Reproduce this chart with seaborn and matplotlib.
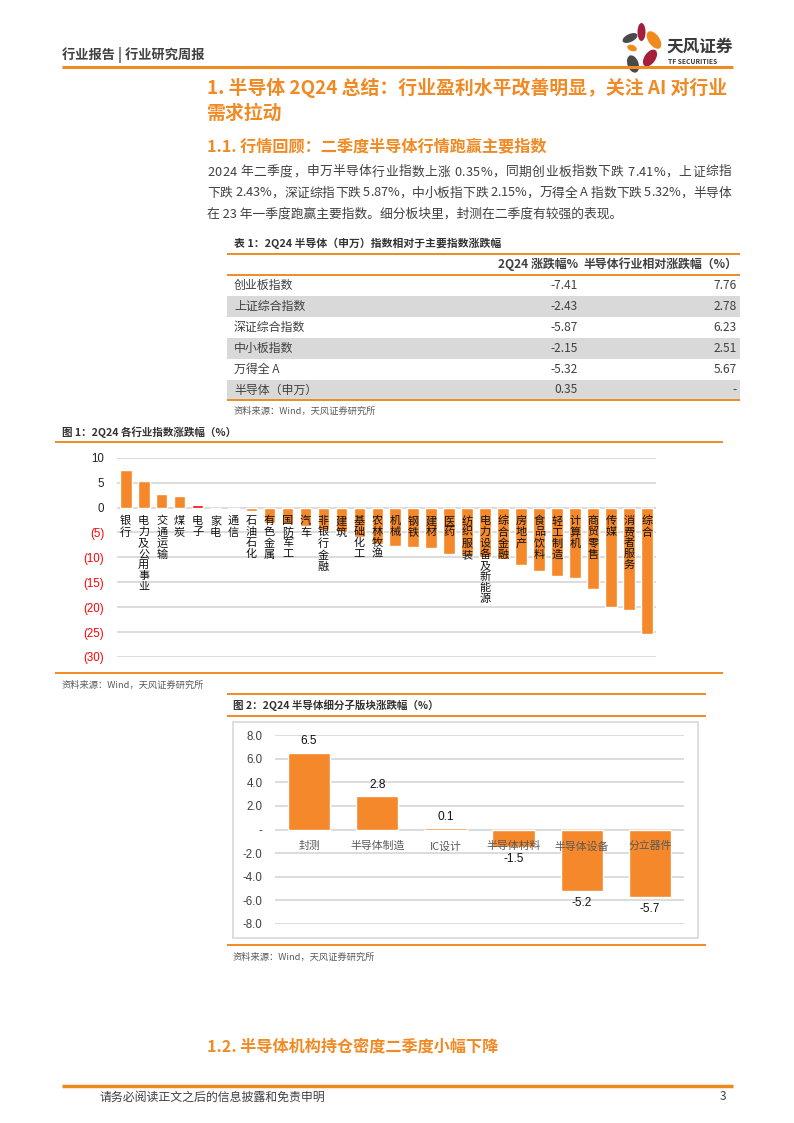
import numpy as np
import pandas as pd
import matplotlib
matplotlib.use('Agg')
import matplotlib.pyplot as plt
import seaborn as sns
from matplotlib.patches import Ellipse, Rectangle

sns.set_theme(style='white')
plt.rcParams['font.family'] = ['Noto Sans CJK SC', 'DejaVu Sans']
plt.rcParams['axes.unicode_minus'] = False

# ---------------- data ----------------
table_names = ['创业板指数', '上证综合指数', '深证综合指数', '中小板指数', '万得全 A', '半导体（申万）']
table_chg = ['-7.41', '-2.43', '-5.87', '-2.15', '-5.32', '0.35']
table_rel = ['7.76', '2.78', '6.23', '2.51', '5.67', '-']

ind_names = ['银行', '电力及公用事业', '交通运输', '煤炭', '电子', '家电', '通信', '石油石化',
             '有色金属', '国防军工', '汽车', '非银行金融', '建筑', '基础化工', '农林牧渔', '机械',
             '钢铁', '建材', '医药', '纺织服装', '电力设备及新能源', '综合金融', '房地产', '食品饮料',
             '轻工制造', '计算机', '商贸零售', '传媒', '消费者服务', '综合']
ind_chg = [7.6, 5.3, 2.7, 2.3, 0.6, 0.0, -0.3, -0.6,
           -3.2, -3.4, -3.8, -4.6, -5.0, -6.0, -7.4, -7.8,
           -7.9, -8.1, -9.3, -9.6, -9.9, -10.3, -11.6, -12.8,
           -13.8, -14.2, -16.3, -19.9, -20.5, -25.3]
ind_ticks = [10, 5, 0, -5, -10, -15, -20, -25, -30]

sub_names = ['封测', '半导体制造', 'IC设计', '半导体材料', '半导体设备', '分立器件']
sub_chg = [6.5, 2.8, 0.1, -1.5, -5.2, -5.7]
sub_ticks = [8, 6, 4, 2, 0, -2, -4, -6, -8]

paragraph = ['2024 年二季度，申万半导体行业指数上涨 0.35%，同期创业板指数下跌 7.41%，上证综指',
             '下跌 2.43%，深证综指下跌 5.87%，中小板指下跌 2.15%，万得全 A 指数下跌 5.32%，半导体',
             '在 23 年一季度跑赢主要指数。细分板块里，封测在二季度有较强的表现。']

ORANGE = '#F08A24'
BAR = '#F5882A'
GREY_TXT = '#404040'
W, H = 794, 1123

fig = plt.figure(figsize=(W / 100, H / 100), dpi=100)
renderer = fig.canvas.get_renderer()

# page canvas in pixel coordinates
bg = fig.add_axes([0, 0, 1, 1])
bg.set_xlim(0, W)
bg.set_ylim(H, 0)
bg.axis('off')


def hline(x0, x1, y, lw=1.4, color=ORANGE):
    bg.plot([x0, x1], [y, y], color=color, lw=lw, solid_capstyle='butt')


def text_w(s, **kw):
    t = bg.text(0, 0, s, **kw)
    w = t.get_window_extent(renderer).width
    t.remove()
    return w


def justified(x0, x1, y, line, **kw):
    # spread characters evenly so the line fills x0..x1
    dot = text_w('.', **kw)
    full = text_w(line + '.', **kw) - dot
    gap = (x1 - x0 - full) / (len(line) - 1)
    for i, ch in enumerate(line):
        if ch == ' ':
            continue
        xi = x0 + (text_w(line[:i] + '.', **kw) - dot if i else 0) + i * gap
        bg.text(xi, y, ch, **kw)


# header
bg.text(62, 55, '行业报告 | 行业研究周报', fontsize=9.5, fontweight='bold', color=GREY_TXT, va='center')
hline(62, 733, 67, lw=2.2)

# logo
petals = [((641.5, 32), 8, 18, 0, '#A31F3C'),
          ((654, 40), 11, 20, -35, '#F08A1C'),
          ((630, 38), 16, 8, -25, '#4A4A4A'),
          ((632, 48), 10, 6, 20, '#F08A1C'),
          ((650, 58), 11, 19, 35, '#A31F3C'),
          ((633, 64), 11, 18, -20, '#4A4A4A')]
for c, w, h, ang, col in petals:
    bg.add_patch(Ellipse(c, w, h, angle=ang, color=col, lw=0))
bg.text(666, 47, '天风证券', fontsize=12, fontweight='bold', color='#3A3A3A', va='center')
bg.text(668, 61, 'TF SECURITIES', fontsize=4.8, fontweight='bold', color='#3A3A3A', va='center')

# headings and paragraph
bg.text(207, 88, '1. 半导体 2Q24 总结：行业盈利水平改善明显，关注 AI 对行业', fontsize=13.6,
        fontweight='bold', color=ORANGE, va='center')
bg.text(207, 113, '需求拉动', fontsize=13.6, fontweight='bold', color=ORANGE, va='center')
bg.text(207, 146, '1.1. 行情回顾：二季度半导体行情跑赢主要指数', fontsize=11.6,
        fontweight='bold', color=ORANGE, va='center')
pstyle = dict(fontsize=9.2, color=GREY_TXT, va='center')
for i, line in enumerate(paragraph):
    if i < len(paragraph) - 1:
        justified(207, 731, 172 + 21 * i, line, **pstyle)
    else:
        bg.text(207, 172 + 21 * i, line, **pstyle)

# ---------------- table ----------------
bg.text(234, 243, '表 1：2Q24 半导体（申万）指数相对于主要指数涨跌幅', fontsize=7.8,
        fontweight='bold', color='#333333', va='center')
row_h = 20.9
tab_top = 275
for i in range(len(table_names)):
    y0 = tab_top + i * row_h
    if i % 2 == 1:
        bg.add_patch(Rectangle((227, y0), 513, row_h, color='#D9D9D9', lw=0))
    yc = y0 + row_h / 2
    bg.text(234, yc, table_names[i], fontsize=8.6, color=GREY_TXT, va='center')
    bg.text(578, yc, table_chg[i], fontsize=8.6, color=GREY_TXT, va='center', ha='right')
    bg.text(737, yc, table_rel[i], fontsize=8.6, color=GREY_TXT, va='center', ha='right')
bg.text(578, 264.5, '2Q24 涨跌幅%', fontsize=8.6, fontweight='bold', color=GREY_TXT,
        va='center', ha='right')
bg.text(737, 264.5, '半导体行业相对涨跌幅（%）', fontsize=8.6, fontweight='bold', color=GREY_TXT,
        va='center', ha='right')
hline(227, 740, 253.5)
hline(227, 740, tab_top)
hline(227, 740, tab_top + len(table_names) * row_h)
bg.text(234, 411.5, '资料来源：Wind，天风证券研究所', fontsize=6.7, color='#595959', va='center')

# ---------------- figure 1 ----------------
bg.text(62, 432, '图 1：2Q24 各行业指数涨跌幅（%）', fontsize=7.6, fontweight='bold',
        color='#333333', va='center')
hline(55, 723, 442)
hline(55, 723, 673)
bg.text(62, 685, '资料来源：Wind，天风证券研究所', fontsize=6.7, color='#595959', va='center')

x0, x1, yt, yb = 116.7, 656, 457.7, 657
ax1 = fig.add_axes([x0 / W, 1 - yb / H, (x1 - x0) / W, (yb - yt) / H])
ax1.set_facecolor('none')
df1 = pd.DataFrame({'name': ind_names, 'chg': ind_chg})
colors1 = {n: ('#FF0000' if n == '电子' else BAR) for n in ind_names}
sns.barplot(data=df1, x='name', y='chg', hue='name', palette=colors1, legend=False,
            width=0.65, saturation=1, ax=ax1, zorder=3)
ax1.set_ylim(-30, 10)
ax1.set_yticks(ind_ticks)
ax1.set_yticklabels([str(t) if t >= 0 else f'({-t})' for t in ind_ticks],
                    family=['Liberation Sans', 'DejaVu Sans'], fontsize=8.3)
for lab, t in zip(ax1.get_yticklabels(), ind_ticks):
    lab.set_color('#FF0000' if t < 0 else '#222222')
ax1.set_xticks([])
ax1.set_xlabel('')
ax1.set_ylabel('')
ax1.tick_params(axis='y', length=0, pad=9)
ax1.yaxis.grid(True, color='#D9D9D9', lw=1.3, zorder=0)
ax1.set_axisbelow(True)
sns.despine(ax=ax1, left=True, bottom=True)
for i, n in enumerate(ind_names):
    ax1.text(i, -1.7, '\n'.join(n), ha='center', va='top', fontsize=8,
             linespacing=1.12, color='#111111', zorder=5)

# ---------------- figure 2 ----------------
hline(227, 706, 694)
bg.text(233, 705, '图 2：2Q24 半导体细分子版块涨跌幅（%）', fontsize=7.6, fontweight='bold',
        color='#333333', va='center')
hline(227, 706, 716)
bg.add_patch(Rectangle((233, 722), 465, 216, fill=False, edgecolor='#D9D9D9', lw=1.2))
hline(227, 706, 945)
bg.text(233, 957, '资料来源：Wind，天风证券研究所', fontsize=6.7, color='#595959', va='center')

x0, x1, yt, yb = 275, 684, 735, 924
ax2 = fig.add_axes([x0 / W, 1 - yb / H, (x1 - x0) / W, (yb - yt) / H])
ax2.set_facecolor('none')
df2 = pd.DataFrame({'name': sub_names, 'chg': sub_chg})
sns.barplot(data=df2, x='name', y='chg', color=BAR, width=0.62, saturation=1, ax=ax2, zorder=3)
ax2.set_ylim(-8, 8)
ax2.set_yticks(sub_ticks)
ax2.set_yticklabels([f'{t:.1f}' if t != 0 else '-' for t in sub_ticks],
                    family=['Liberation Sans', 'DejaVu Sans'], fontsize=8.3, color='#404040')
ax2.set_xticks([])
ax2.set_xlabel('')
ax2.set_ylabel('')
ax2.tick_params(axis='y', length=0, pad=9)
ax2.yaxis.grid(True, color='#D9D9D9', lw=1.3, zorder=0)
ax2.set_axisbelow(True)
sns.despine(ax=ax2, left=True, bottom=True)
for i, (n, v) in enumerate(zip(sub_names, sub_chg)):
    yl = v + 1.0 if v >= 0 else v - 1.0
    ax2.text(i, yl, f'{v:.1f}', ha='center', va='center', fontsize=8.6,
             family=['Liberation Sans', 'DejaVu Sans'], color='#111111', zorder=5)
    ax2.text(i, -1.4, n, ha='center', va='center', fontsize=7.8, color='#595959', zorder=5)

# ---------------- section 1.2 and footer ----------------
bg.text(207, 1047, '1.2. 半导体机构持仓密度二季度小幅下降', fontsize=11.6,
        fontweight='bold', color=ORANGE, va='center')
hline(62, 733, 1086, lw=2.5, color='#EC8B1A')
bg.text(100, 1097, '请务必阅读正文之后的信息披露和免责申明', fontsize=8.6, color=GREY_TXT, va='center')
bg.text(726, 1097, '3', fontsize=8.6, color=GREY_TXT, va='center', ha='right')

fig.savefig('out.png', dpi=100)
